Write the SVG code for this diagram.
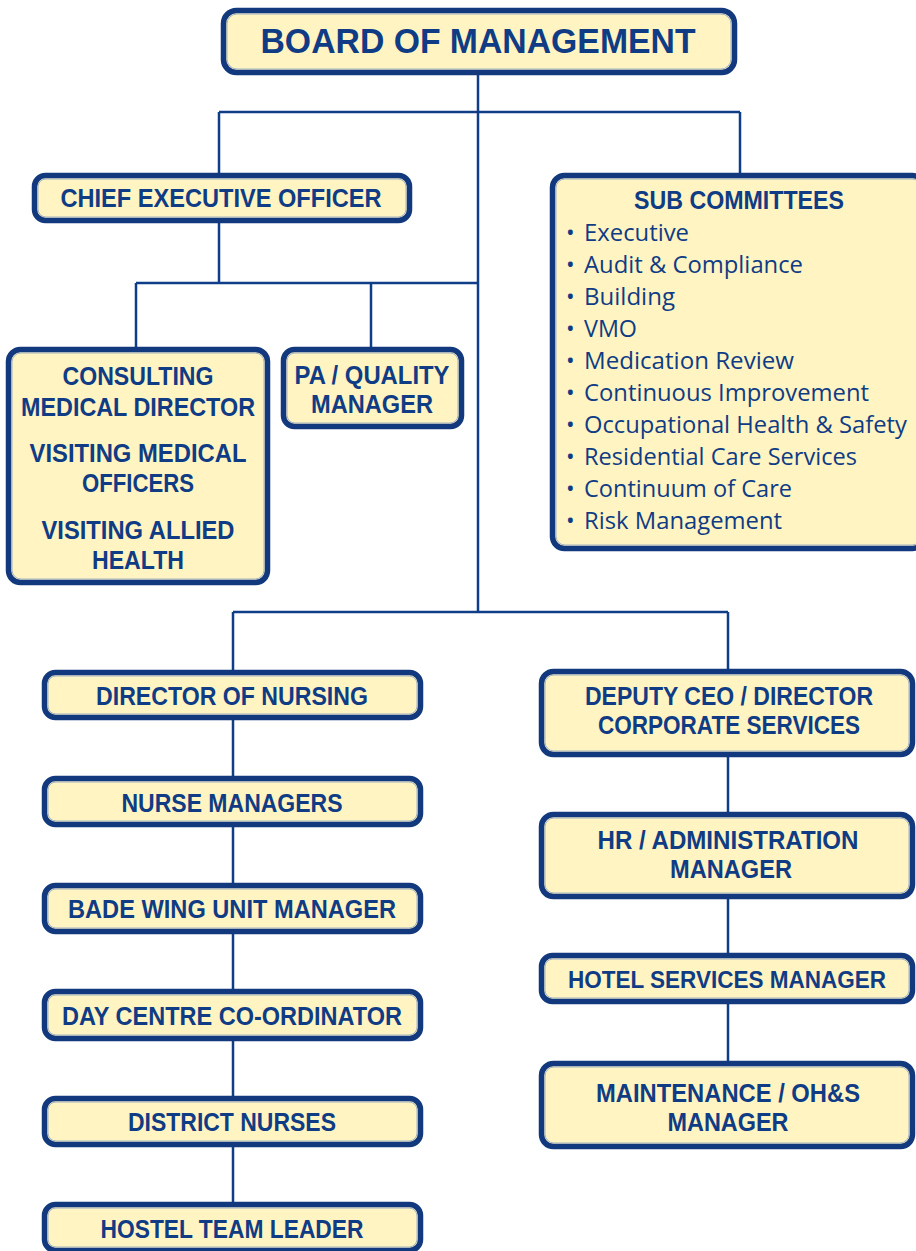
<svg xmlns="http://www.w3.org/2000/svg" width="916" height="1251" viewBox="0 0 916 1251">
  <style>
    .box { fill: #fff4c2; stroke: #12397d; stroke-width: 5.5; }
    .hl { fill: none; stroke: #7f98c4; stroke-width: 1; opacity: 0.7; }
    .t { font-family: "Liberation Sans", Arial, sans-serif; font-weight: bold; font-size: 25px; fill: #0f3c84; text-anchor: middle; }
    .big { font-size: 35px; }
    .item { font-family: "Open Sans", "Liberation Sans", sans-serif; font-size: 23px; fill: #0f3c84; }
    .conn { fill: none; stroke: #0f3d88; stroke-width: 2.5; }
  </style>

  <!-- reporting lines; each segment runs only between box edges -->
  <g id="connectors" class="conn">
    <path d="M478,75 V612"/>
    <path d="M219,112 H740 M219,112 V173 M740,112 V173"/>
    <path d="M219,223 V283 M136,283 H478 M136,283 V347 M371,283 V347"/>
    <path d="M233,612 H728 M233,612 V670 M728,612 V670"/>
    <path d="M233,720 V776 M233,827 V883 M233,934 V989 M233,1041 V1096 M233,1147 V1202"/>
    <path d="M728,757 V812 M728,899 V953 M728,1004 V1061"/>
  </g>

  <g id="board">
    <rect class="box" x="223.5" y="10.5" width="511" height="62" rx="13"/>
    <rect class="hl" x="227" y="14" width="504" height="55" rx="10"/>
    <text class="t big" x="478" y="53" textLength="435" lengthAdjust="spacingAndGlyphs">BOARD OF MANAGEMENT</text>
  </g>

  <g id="ceo">
    <rect class="box" x="34.5" y="175.5" width="375" height="45" rx="11"/>
    <rect class="hl" x="38" y="179" width="368" height="38" rx="8"/>
    <text class="t" x="221" y="207" textLength="321" lengthAdjust="spacingAndGlyphs">CHIEF EXECUTIVE OFFICER</text>
  </g>

  <g id="sub-committees">
    <rect class="box" x="552.5" y="175.5" width="372" height="373" rx="12"/>
    <rect class="hl" x="556" y="179" width="365" height="366" rx="9"/>
    <text class="t" x="739" y="209" textLength="210" lengthAdjust="spacingAndGlyphs">SUB COMMITTEES</text>
    <g class="item">
      <text x="566" y="241">•</text><text x="584" y="241" textLength="105" lengthAdjust="spacingAndGlyphs">Executive</text>
      <text x="566" y="273">•</text><text x="584" y="273" textLength="219" lengthAdjust="spacingAndGlyphs">Audit &amp; Compliance</text>
      <text x="566" y="305">•</text><text x="584" y="305" textLength="91" lengthAdjust="spacingAndGlyphs">Building</text>
      <text x="566" y="337">•</text><text x="584" y="337" textLength="53" lengthAdjust="spacingAndGlyphs">VMO</text>
      <text x="566" y="369">•</text><text x="584" y="369" textLength="210" lengthAdjust="spacingAndGlyphs">Medication Review</text>
      <text x="566" y="401">•</text><text x="584" y="401" textLength="285" lengthAdjust="spacingAndGlyphs">Continuous Improvement</text>
      <text x="566" y="433">•</text><text x="584" y="433" textLength="323" lengthAdjust="spacingAndGlyphs">Occupational Health &amp; Safety</text>
      <text x="566" y="465">•</text><text x="584" y="465" textLength="273" lengthAdjust="spacingAndGlyphs">Residential Care Services</text>
      <text x="566" y="497">•</text><text x="584" y="497" textLength="208" lengthAdjust="spacingAndGlyphs">Continuum of Care</text>
      <text x="566" y="529">•</text><text x="584" y="529" textLength="198" lengthAdjust="spacingAndGlyphs">Risk Management</text>
    </g>
  </g>

  <g id="medical">
    <rect class="box" x="8.5" y="349.5" width="259" height="233" rx="12"/>
    <rect class="hl" x="12" y="353" width="252" height="226" rx="9"/>
    <text class="t" x="138" y="385" textLength="151" lengthAdjust="spacingAndGlyphs">CONSULTING</text>
    <text class="t" x="138" y="416" textLength="234" lengthAdjust="spacingAndGlyphs">MEDICAL DIRECTOR</text>
    <text class="t" x="138" y="462" textLength="217" lengthAdjust="spacingAndGlyphs">VISITING MEDICAL</text>
    <text class="t" x="138" y="492" textLength="112" lengthAdjust="spacingAndGlyphs">OFFICERS</text>
    <text class="t" x="138" y="539" textLength="193" lengthAdjust="spacingAndGlyphs">VISITING ALLIED</text>
    <text class="t" x="138" y="569" textLength="92" lengthAdjust="spacingAndGlyphs">HEALTH</text>
  </g>

  <g id="pa-quality">
    <rect class="box" x="283.5" y="349.5" width="178" height="77" rx="11"/>
    <rect class="hl" x="287" y="353" width="171" height="70" rx="8"/>
    <text class="t" x="372" y="384" textLength="155" lengthAdjust="spacingAndGlyphs">PA / QUALITY</text>
    <text class="t" x="372" y="413" textLength="122" lengthAdjust="spacingAndGlyphs">MANAGER</text>
  </g>

  <g id="director-nursing">
    <rect class="box" x="44.5" y="672.5" width="376" height="45" rx="11"/>
    <rect class="hl" x="48" y="676" width="369" height="38" rx="8"/>
    <text class="t" x="232" y="705" textLength="272" lengthAdjust="spacingAndGlyphs">DIRECTOR OF NURSING</text>
  </g>

  <g id="nurse-managers">
    <rect class="box" x="44.5" y="778.5" width="376" height="46" rx="11"/>
    <rect class="hl" x="48" y="782" width="369" height="39" rx="8"/>
    <text class="t" x="232" y="812" textLength="221" lengthAdjust="spacingAndGlyphs">NURSE MANAGERS</text>
  </g>

  <g id="bade-wing">
    <rect class="box" x="44.5" y="885.5" width="376" height="46" rx="11"/>
    <rect class="hl" x="48" y="889" width="369" height="39" rx="8"/>
    <text class="t" x="232" y="918" textLength="328" lengthAdjust="spacingAndGlyphs">BADE WING UNIT MANAGER</text>
  </g>

  <g id="day-centre">
    <rect class="box" x="44.5" y="991.5" width="376" height="47" rx="11"/>
    <rect class="hl" x="48" y="995" width="369" height="40" rx="8"/>
    <text class="t" x="232" y="1025" textLength="340" lengthAdjust="spacingAndGlyphs">DAY CENTRE CO-ORDINATOR</text>
  </g>

  <g id="district-nurses">
    <rect class="box" x="44.5" y="1098.5" width="376" height="46" rx="11"/>
    <rect class="hl" x="48" y="1102" width="369" height="39" rx="8"/>
    <text class="t" x="232" y="1131" textLength="208" lengthAdjust="spacingAndGlyphs">DISTRICT NURSES</text>
  </g>

  <g id="hostel-team-leader">
    <rect class="box" x="44.5" y="1204.5" width="376" height="46" rx="11"/>
    <rect class="hl" x="48" y="1208" width="369" height="39" rx="8"/>
    <text class="t" x="232" y="1238" textLength="263" lengthAdjust="spacingAndGlyphs">HOSTEL TEAM LEADER</text>
  </g>

  <g id="deputy-ceo">
    <rect class="box" x="541.5" y="671.5" width="371" height="83" rx="12"/>
    <rect class="hl" x="545" y="675" width="364" height="76" rx="9"/>
    <text class="t" x="729" y="705" textLength="288" lengthAdjust="spacingAndGlyphs">DEPUTY CEO / DIRECTOR</text>
    <text class="t" x="729" y="734" textLength="262" lengthAdjust="spacingAndGlyphs">CORPORATE SERVICES</text>
  </g>

  <g id="hr-admin">
    <rect class="box" x="541.5" y="814.5" width="371" height="82" rx="12"/>
    <rect class="hl" x="545" y="818" width="364" height="75" rx="9"/>
    <text class="t" x="728" y="849" textLength="261" lengthAdjust="spacingAndGlyphs">HR / ADMINISTRATION</text>
    <text class="t" x="731" y="878" textLength="122" lengthAdjust="spacingAndGlyphs">MANAGER</text>
  </g>

  <g id="hotel-services">
    <rect class="box" x="541.5" y="955.5" width="371" height="46" rx="11"/>
    <rect class="hl" x="545" y="959" width="364" height="39" rx="8"/>
    <text class="t" x="727" y="988" style="font-size:24px" textLength="318" lengthAdjust="spacingAndGlyphs">HOTEL SERVICES MANAGER</text>
  </g>

  <g id="maintenance">
    <rect class="box" x="541.5" y="1063.5" width="371" height="83" rx="12"/>
    <rect class="hl" x="545" y="1067" width="364" height="76" rx="9"/>
    <text class="t" x="728" y="1102" textLength="264" lengthAdjust="spacingAndGlyphs">MAINTENANCE / OH&amp;S</text>
    <text class="t" x="728" y="1131" textLength="121" lengthAdjust="spacingAndGlyphs">MANAGER</text>
  </g>
</svg>
